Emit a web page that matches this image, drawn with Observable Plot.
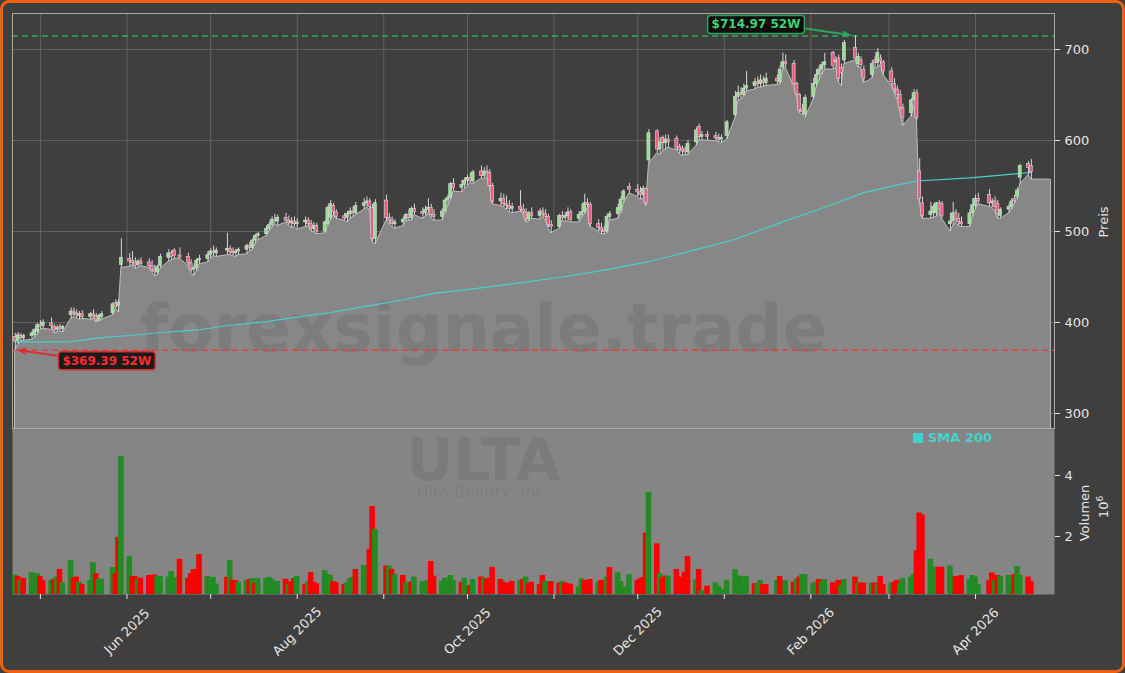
<!DOCTYPE html>
<html><head><meta charset="utf-8">
<script src="https://cdn.jsdelivr.net/npm/d3@7"></script>
<script src="https://cdn.jsdelivr.net/npm/@observablehq/plot@0.6"></script>
<style>
html,body{margin:0;padding:0;background:#3f3f3f;}
#wrap{position:relative;width:1125px;height:673px;overflow:hidden;background:#3f3f3f;font-family:"DejaVu Sans",sans-serif;}
#border{position:absolute;left:0;top:0;width:1125px;height:673px;box-sizing:border-box;border:3px solid #f2600c;border-radius:9px;pointer-events:none;z-index:10;}
.layer{position:absolute;left:0;}
.rot{position:absolute;transform:translate(-50%,-50%) rotate(-90deg);color:#e6e6e6;font:13px "DejaVu Sans";white-space:nowrap;line-height:1;z-index:5;}
.rot sup{font-size:9px;vertical-align:5px;line-height:0;}
#legend{position:absolute;left:913px;top:431px;color:#48d1cc;font:bold 13px "DejaVu Sans";white-space:nowrap;z-index:5;line-height:14px;}
#legend span{display:inline-block;width:10px;height:10px;background:#48d1cc;margin-right:5px;vertical-align:-1px;}
</style></head><body>
<div id="wrap">
  <div id="vol" class="layer" style="top:428px;z-index:1"></div>
  <div id="price" class="layer" style="top:0;z-index:2"></div>
  <div class="rot" id="ylab1" style="left:1103px;top:222px"></div>
  <div class="rot" id="ylab2" style="left:1084px;top:513px"></div>
  <div class="rot" id="ylab3" style="left:1103px;top:507px"></div>
  <div id="legend"><span></span><b id="legtxt"></b></div>
  <div id="border"></div>
</div>
<script>
// ---------------- DATA ----------------
const tickerSymbol = "ULTA";
const companyName = "Ulta Beauty, Inc";
const watermarkSite = "forexsignale.trade";
const priceLabel = "Preis";
const volumeLabel = "Volumen";
const smaLabel = "SMA 200";

const firstDay = "2025-04-22";
const lastDay = "2026-04-21";
const holidays = ["2025-05-26","2025-06-19","2025-07-04","2025-09-01","2025-11-27","2025-12-25","2026-01-01","2026-01-19","2026-02-16","2026-04-03"];
const fillEndDay = "2026-04-28";

const opens = [
384,380,385,383,385,386,390,
397,396,399,395,392,394,393,408,412,410,407,409,406,409,407,402,406,410,421,418,463,
470,467,466,463,467,466,462,458,455,462,471,476,479,473,472,465,458,460,468,470,
474,478,476,479,481,478,476,478,480,484,482,490,495,497,503,507,513,511,515,512,509,511,
508,510,512,508,503,506,500,508,515,528,521,516,515,519,522,520,528,531,533,526,492,
534,515,512,508,510,513,518,515,525,521,520,524,526,518,516,522,534,537,552,548,551,
556,559,555,566,561,566,564,550,533,536,530,528,525,527,524,521,513,520,517,522,519,516,507,
505,517,515,517,521,514,518,521,531,529,508,504,501,500,516,519,523,535,549,
546,543,540,547,578,610,590,603,597,601,602,593,591,590,587,598,615,604,606,604,603,601,
605,628,648,652,650,657,660,664,662,666,663,668,664,680,686,684,662,650,634,628,
648,662,672,678,683,696,686,690,680,688,702,684,688,678,672,688,685,690,686,
676,662,656,650,636,630,644,652,566,531,518,520,520,531,530,508,511,520,514,510,508,520,
528,536,540,531,533,530,517,524,527,535,538,559,574,572];

const highs = [
388,389,388,387,390,393,399,
402,403,405,398,397,398,397,416,416,414,412,413,411,414,410,409,412,422,425,425,492,
476,478,471,469,471,470,468,463,463,475,480,479,481,482,476,469,463,470,474,478,
481,484,482,498,484,482,480,482,486,488,492,497,499,506,510,516,519,518,520,517,515,516,
514,516,515,512,510,509,512,528,534,531,524,520,522,526,527,532,536,538,536,530,535,
540,520,516,513,516,520,524,527,530,526,528,536,530,524,525,536,540,554,558,556,559,
562,564,567,572,570,572,568,553,542,541,539,534,531,545,530,525,522,526,525,526,524,519,512,
519,522,520,526,524,522,530,541,536,532,513,509,506,519,522,530,538,546,553,
552,549,550,548,612,612,603,605,606,606,605,596,594,593,600,614,618,610,610,609,607,606,
622,654,660,658,662,676,668,670,672,670,674,672,682,696,694,688,664,652,640,650,
668,678,682,686,696,698,692,694,684,710,714.97,696,692,682,688,692,701,694,688,
680,668,660,655,640,646,656,656,580,538,532,530,532,534,533,520,532,524,520,516,524,536,
540,542,546,536,538,534,526,530,536,540,548,574,577,579];

const lows = [
369.39,376,379,380,381,383,387,
392,393,392,388,389,390,389,404,406,405,403,404,403,405,400,401,403,408,415,411,460,
461,463,459,460,462,460,455,451,452,459,467,468,470,470,462,455,451,456,464,466,
470,473,472,474,474,473,472,474,475,478,480,486,490,495,500,504,508,506,510,506,504,505,
502,505,506,500,499,497,498,506,512,518,514,512,510,514,516,518,524,526,524,488,486,
512,508,505,503,506,510,512,512,518,514,516,520,515,512,512,520,528,535,544,543,547,
550,553,552,558,557,560,548,530,528,527,524,521,520,522,519,510,511,514,513,516,512,504,498,
503,512,510,511,510,510,515,519,526,505,500,497,497,498,512,514,520,531,542,
538,535,536,528,574,586,584,588,590,592,589,585,583,584,584,594,600,600,600,599,598,597,
601,625,643,645,648,654,656,658,658,659,660,661,662,677,680,660,648,630,628,625,
645,658,666,672,678,678,680,664,660,684,688,680,680,663,668,680,680,683,672,
660,652,645,632,616,626,640,622,532,514,514,515,516,520,514,500,506,510,506,505,505,516,
524,530,527,526,522,514,514,520,524,530,535,552,562,557];

const closes = [
379,386,383,385,388,392,397,
395,400,396,391,394,393,395,412,410,408,409,406,409,407,402,407,409,420,417,422,471,
467,466,462,467,464,462,458,455,461,472,476,472,473,472,465,458,460,468,470,474,
478,476,479,481,477,476,478,480,484,482,490,495,497,503,507,513,511,515,512,509,511,508,
510,512,508,503,506,500,510,526,530,521,516,515,519,522,520,528,531,533,527,492,531,
515,512,508,510,513,518,515,525,521,520,524,526,518,516,522,534,537,552,548,551,556,
559,555,565,561,566,564,550,533,536,530,528,525,527,524,521,513,520,517,522,519,516,507,505,
517,515,517,521,513,518,521,531,529,508,504,501,500,516,519,526,535,544,546,
543,540,547,531,608,590,598,597,601,598,591,589,588,587,596,611,604,606,604,603,601,603,
620,648,652,650,657,660,664,662,666,663,668,665,678,686,684,662,651,633,631,647,
662,672,678,683,686,682,688,668,674,707,690,692,683,668,684,685,696,687,676,
664,656,650,636,625,644,652,625,536,517,522,527,531,524,517,511,520,514,510,508,520,529,
536,533,531,533,527,519,524,527,533,534,545,572,570,565];

// volume in millions
const volumes = [
.74,.69,.56,.63,.81,.74,.78,.69,.56,.56,
.60,.67,.92,.48,1.21,.63,.67,.50,.43,.56,
1.14,.78,.59,.60,.98,.78,1.97,4.62,1.34,.69,
.69,.60,.63,.72,.73,.73,.69,.69,.67,.85,
.66,1.25,.63,.78,.92,.85,1.41,.69,.59,.66,
.44,.66,1.21,.56,.56,.50,.56,.59,.62,
.47,.62,.62,.66,.61,.50,.53,.60,.43,.52,
.62,.69,.43,.52,.82,.50,.45,.88,.75,.72,
.52,.49,.43,.48,.61,.66,.92,1.05,.82,1.57,
2.98,2.23,
1.03,1.03,.92,.75,.72,.48,.50,.50,.67,.52,
.50,.56,1.18,.70,.53,.63,.56,.72,.56,.50,
.63,.34,.39,.59,.67,.63,.59,.63,.99,.59,
.50,.47,.42,.53,.56,.59,.67,.45,.50,.42,
.72,.52,.52,.52,.47,.52,.48,.45,.43,.34,
.61,.56,.52,.59,.50,.56,.52,.67,.98,.81,
.52,.34,.75,.56,.61,.65,2.11,3.45,1.76,
.78,.63,.70,.70,.92,.67,.52,.83,1.34,.58,
.92,.23,.37,.48,.37,.28,.56,.91,.70,.69,
.45,.69,.45,.43,.56,.42,.42,.56,.69,.55,
.55,.50,.60,.67,.75,.75,.47,.50,.59,.50,
.59,.48,.39,.56,.39,.59,.67,.47,.47,.47,
.47,.47,.43,.69,.43,.47,.50,.56,.43,.63,
.67,.75,
1.53,2.77,2.70,1.25,.99,.80,.99,.99,1.03,.69,
.69,.67,.72,.59,.72,.67,.42,.56,.80,.56,
.72,.69,.72,.52,.75,1.01,.72,.67,.52];

// g = green (up) volume bar, r = red (down) volume bar
const volumeDir =
  "grgrgggrrg"+"rgrggrrgrg"+"grgggrrggr"+"rgrrrrgggg"+"grrrrrrggg"+"grgrrggrg"+"rggggggrgr"+"rgrgrrrggg"+"rrrgggrggr"+"rg"+
  "rgrgrggrgg"+"ggrrgggggr"+"ggrgrgrrrr"+"rrrrgrgrrr"+"rggrrgrrrg"+"grrrgrrgrg"+"gggrrrrgr"+"grrgrrrrrg"+"rgrggggggg"+"ggrggrrgrr"+
  "grgrggggrg"+"grrrggrgrr"+"grgrrgrrgggg"+
  "rrrgggrrggrrrggggrrgrgggrggrr";

const smaDates = ["2025-04-22","2025-05-12","2025-05-22","2025-06-03","2025-06-13","2025-06-27","2025-07-08","2025-07-21","2025-08-01","2025-08-13","2025-08-26","2025-09-08","2025-09-19","2025-10-03","2025-10-17","2025-11-04","2025-11-21","2025-12-05","2025-12-11","2025-12-23","2026-01-05","2026-01-16","2026-01-28","2026-02-09","2026-02-20","2026-03-03","2026-03-11","2026-03-30","2026-04-21"];
const smaValues = [378.5,379,383,386,389,392,397,401,406,411,418,425,432,437,442.5,450,458.7,467,471.4,481,491.5,504,517,530,542.7,550.5,555.5,559,565];

const priceTicks = [300,400,500,600,700];
const volumeTicks = [2e6,4e6];
const priceDomain = [283.5, 739.6];
const volumeDomain = [0.098e6, 5.54e6];
const xStart = "2025-04-21T00:00:00Z", xEnd = "2026-04-29T07:00:00Z";

// ---------------- BUILD ----------------
const parse = s => new Date(s + "T00:00:00Z");
const DAY = 864e5;
const hol = new Set(holidays);
const dates = [];
for (let t = parse(firstDay); t <= parse(lastDay); t = new Date(+t + DAY)) {
  const wd = t.getUTCDay();
  if (wd === 0 || wd === 6 || hol.has(t.toISOString().slice(0,10))) continue;
  dates.push(t);
}
const rows = dates.map((date, i) => ({
  date, open: opens[i], high: highs[i], low: lows[i], close: closes[i],
  volume: volumes[i] * 1e6, volUp: volumeDir[i] === "g"
}));
const fillRows = rows.map(d => ({date: d.date, low: d.low}))
  .concat([{date: parse(fillEndDay), low: rows[rows.length - 1].low}]);
const smaRows = smaDates.map((s, i) => ({date: parse(s), value: smaValues[i]}));

const hiRow = rows.reduce((a, b) => b.high > a.high ? b : a);
const loRow = rows.reduce((a, b) => b.low < a.low ? b : a);

const xDomain = [new Date(xStart), new Date(xEnd)];
const monthTicks = d3.utcMonths(parse("2025-05-01"), parse("2026-04-02"));
const labelTicks = monthTicks.filter(d => d.getUTCMonth() % 2 === 1);
const fmt = d3.utcFormat("%b %Y");

const GRID = "#6b6b6b";
const baseStyle = {background: "transparent", color: "#e6e6e6", fontFamily: "DejaVu Sans", fontSize: "13px", overflow: "visible"};
const wm = {frameAnchor: "top-left", textAnchor: "middle", lineAnchor: "middle", fill: "#000"};

const pricePlot = Plot.plot({
  width: 1125, height: 429,
  marginTop: 13, marginBottom: 1, marginLeft: 12, marginRight: 71,
  style: baseStyle,
  x: {type: "utc", domain: xDomain, axis: null},
  y: {domain: priceDomain},
  color: {type: "identity"},
  marks: [
    Plot.ruleX(monthTicks, {x: d => d, stroke: GRID, strokeWidth: 0.8}),
    Plot.ruleY(priceTicks.filter(v => v > priceDomain[0] + 5), {y: d => d, stroke: GRID, strokeWidth: 0.8}),
    Plot.areaY(fillRows, {x: "date", y1: () => 200, y2: "low", fill: "#878787", stroke: "#bdbdbd", strokeWidth: 1, clip: true}),
    Plot.text([watermarkSite], {...wm, text: d => d, dx: 471, dy: 316, fontSize: 66, fontWeight: "bold", fillOpacity: 0.08}),
    Plot.ruleY([hiRow.high], {y: d => d, stroke: "#35a860", strokeWidth: 1.5, strokeDasharray: "6,4"}),
    Plot.ruleY([loRow.low], {y: d => d, stroke: "#d94444", strokeWidth: 1.5, strokeDasharray: "6,4"}),
    Plot.line(smaRows, {x: "date", y: "value", stroke: "#48d1cc", strokeWidth: 1.2}),
    Plot.ruleX(rows, {x: "date", y1: "low", y2: "high", stroke: "#d6d6d6", strokeWidth: 1}),
    Plot.rect(rows, {
      x1: d => new Date(+d.date - 0.55 * DAY), x2: d => new Date(+d.date + 0.55 * DAY),
      y1: d => Math.min(d.open, d.close) - (Math.abs(d.open - d.close) < 1.2 ? 0.7 : 0),
      y2: d => Math.max(d.open, d.close) + (Math.abs(d.open - d.close) < 1.2 ? 0.7 : 0),
      fill: d => d.close >= d.open ? "#95e095" : "#f05a82",
      stroke: "#d8d8d8", strokeWidth: 0.6
    }),
    Plot.frame({stroke: "#a9a9a9", strokeWidth: 1}),
    Plot.axisY({anchor: "right", ticks: priceTicks, tickSize: 5, tickPadding: 5, fontSize: 13, label: null})
  ]
});

const volPlot = Plot.plot({
  width: 1125, height: 245,
  marginTop: 0, marginBottom: 79, marginLeft: 12, marginRight: 71,
  style: baseStyle,
  x: {type: "utc", domain: xDomain},
  y: {domain: volumeDomain},
  color: {type: "identity"},
  marks: [
    Plot.frame({fill: "#858585"}),
    Plot.text([tickerSymbol], {...wm, text: d => d, dx: 471, dy: 33, fontSize: 58, fontWeight: "bold", fillOpacity: 0.07}),
    Plot.text([companyName], {...wm, text: d => d, dx: 468, dy: 63, fontSize: 16, fillOpacity: 0.07}),
    Plot.rect(rows, {
      x1: d => new Date(+d.date - 1.0 * DAY), x2: d => new Date(+d.date + 1.0 * DAY),
      y1: () => 0, y2: "volume",
      fill: d => d.volUp ? "#228b22" : "#ff0000", clip: true
    }),
    Plot.axisY({anchor: "right", ticks: volumeTicks, tickFormat: d => d / 1e6, tickSize: 5, tickPadding: 5, fontSize: 13, label: null}),
    Plot.axisX({ticks: monthTicks, tickFormat: () => "", tickSize: 5, label: null}),
    Plot.text(labelTicks, {x: d => d, text: d => fmt(d), frameAnchor: "bottom", textAnchor: "middle", lineAnchor: "middle", dy: 37, rotate: -45, fontSize: 13, fill: "#e6e6e6"})
  ]
});

document.getElementById("vol").append(volPlot);
document.getElementById("price").append(pricePlot);

document.getElementById("ylab1").textContent = priceLabel;
document.getElementById("ylab2").textContent = volumeLabel;
document.getElementById("ylab3").innerHTML = "10<sup>6</sup>";
document.getElementById("legtxt").textContent = smaLabel;

// ---------------- 52W annotations ----------------
const xs = pricePlot.scale("x"), ys = pricePlot.scale("y");
function annotate(row, value, label, color, textColor, bg, boxDx, boxDy) {
  const px = xs.apply(row.date), py = ys.apply(value);
  const g = d3.select(pricePlot).append("g");
  const t = g.append("text")
    .attr("x", px + boxDx).attr("y", py + boxDy)
    .attr("text-anchor", "middle").attr("dominant-baseline", "central")
    .attr("font-family", "DejaVu Sans").attr("font-weight", "bold").attr("font-size", 12)
    .attr("fill", textColor).text(label);
  const bb = t.node().getBBox();
  const bx = bb.x - 4, by = bb.y - 2, bw = bb.width + 8, bh = bb.height + 4;
  g.insert("rect", "text").attr("x", bx).attr("y", by).attr("width", bw).attr("height", bh)
    .attr("rx", 3).attr("fill", bg).attr("stroke", color).attr("stroke-width", 1.5);
  const toRight = px > bx + bw;
  const sx = toRight ? bx + bw + 1 : bx - 1;
  const sy = by + bh / 2 + (py > by + bh / 2 ? 4 : -5);
  const ex = px + (toRight ? -3 : 2), ey = py;
  const ang = Math.atan2(ey - sy, ex - sx), L = 9, W = 3.5;
  const lx = ex - L * Math.cos(ang), ly = ey - L * Math.sin(ang);
  g.append("line").attr("x1", sx).attr("y1", sy).attr("x2", lx).attr("y2", ly)
    .attr("stroke", color).attr("stroke-width", 2);
  g.append("path").attr("fill", color).attr("d",
    `M${ex},${ey}L${lx - W * Math.sin(ang)},${ly + W * Math.cos(ang)}L${lx + W * Math.sin(ang)},${ly - W * Math.cos(ang)}Z`);
}
annotate(hiRow, hiRow.high, `$${hiRow.high.toFixed(2)} 52W`, "#2ea55a", "#3ad173", "#0c0c0c", -99, -11);
annotate(loRow, loRow.low, `$${loRow.low.toFixed(2)} 52W`, "#d93030", "#ff2a2a", "#1a1a1a", 92, 11);
</script>
</body></html>
